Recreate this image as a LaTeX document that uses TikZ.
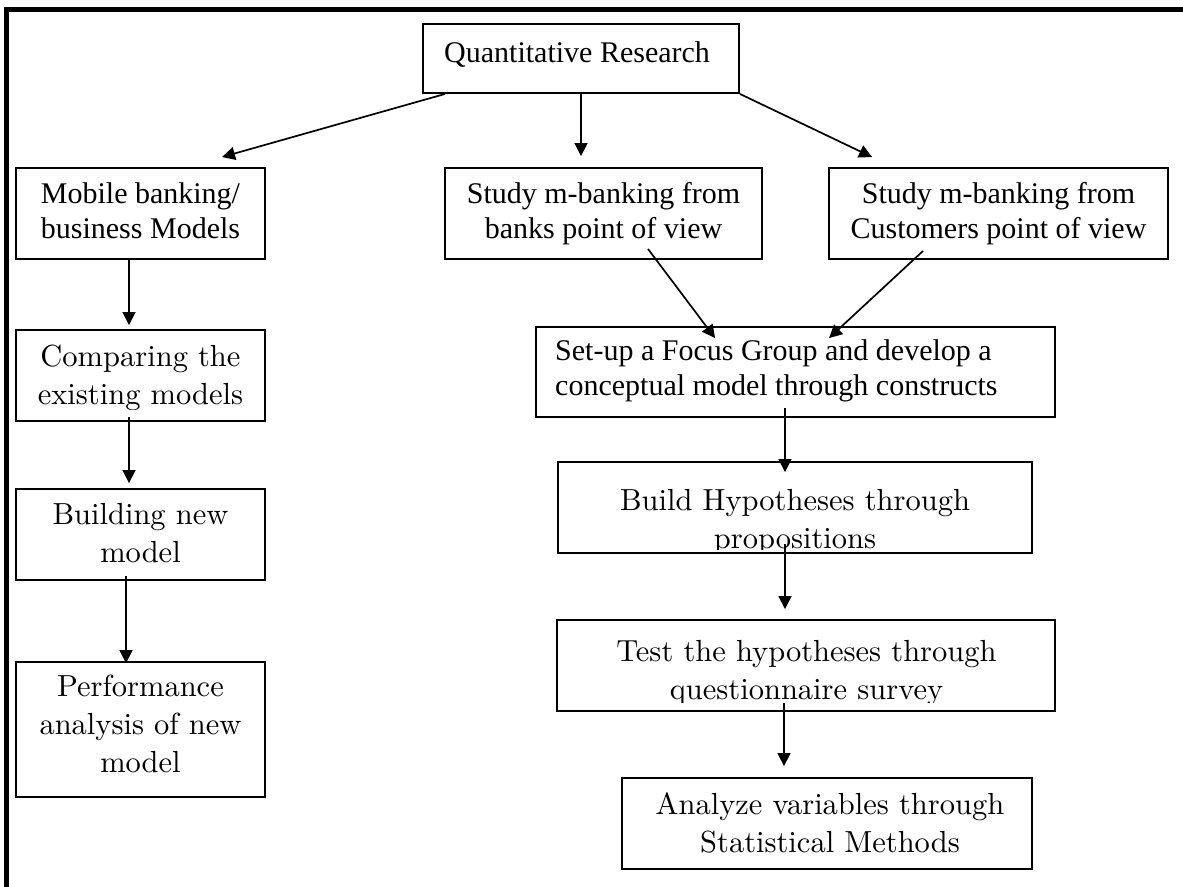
\documentclass[tikz,border=0pt]{standalone}
\usepackage{fontspec}
\newfontfamily\tnr{Liberation Serif}
\newfontfamily\pal{lmroman10-regular}[Extension=.otf]
\usetikzlibrary{arrows.meta,calc}
\begin{document}
\begin{tikzpicture}[x=1pt,y=-1pt,
 box/.style={draw,line width=1.9pt,inner sep=0pt},
 tt/.style={font=\tnr\fontsize{30}{35}\selectfont,inner sep=0pt,align=center,execute at begin node=\strut,execute at end node=\strut},
 pt/.style={font=\pal\fontsize{30.5}{38}\selectfont,inner sep=0pt,align=center,execute at begin node=\strut,execute at end node=\strut},
 arr/.style={line width=1.7pt,-{Triangle[length=13pt,width=13pt]}},
 frame/.style={line width=5pt}]
\useasboundingbox (0,0) rectangle (1183,886);
\draw[frame] (6.5,890) -- (6.5,9.5) -- (1190,9.5);
% boxes
\node[box,minimum width=316pt,minimum height=69pt] (qr) at (581,58.5) {};
\node[box,minimum width=249pt,minimum height=91pt] (mob) at (140.5,213.5) {};
\node[box,minimum width=317pt,minimum height=91pt] (bank) at (603.5,213.5) {};
\node[box,minimum width=339pt,minimum height=91pt] (cust) at (998.5,213.5) {};
\node[box,minimum width=249pt,minimum height=91pt] (comp) at (140.5,375.5) {};
\node[box,minimum width=249pt,minimum height=91pt] (build) at (140.5,534.5) {};
\node[box,minimum width=249pt,minimum height=135pt] (perf) at (140.5,729.5) {};
\node[box,minimum width=519pt,minimum height=90pt] (focus) at (795.5,372) {};
\node[box,minimum width=474pt,minimum height=91pt] (hyp) at (795,507.5) {};
\node[box,minimum width=498pt,minimum height=91pt] (test) at (806,665.5) {};
\node[box,minimum width=410pt,minimum height=91pt] (ana) at (827,823.5) {};
% texts
\node[tt,anchor=base west] (qrt) at (444,62) {Quantitative Research};
\node[tt] (mobt) at (140.5,215.5) {Mobile banking/\\business Models};
\node[tt] (bankt) at (603.5,215.5) {Study m-banking from\\banks point of view};
\node[tt] (custt) at (998.5,215.5) {Study m-banking from\\Customers point of view};
\begin{scope}
\clip (16,330) rectangle (265,409);
\node[pt] (compt) at (140.5,380.4) {Comparing the\\existing models};
\end{scope}
\node[pt] (buildt) at (140.5,538.4) {Building new\\model};
\node[pt] (perft) at (140.5,729.4) {Performance\\analysis of new\\model};
\node[tt,align=left,anchor=west] (focust) at (555,373) {Set-up a Focus Group and develop a\\conceptual model through constructs};
\begin{scope}
\clip (558,462) rectangle (1032,549);
\node[pt] (hypt) at (795,525) {Build Hypotheses through\\propositions};
\end{scope}
\begin{scope}
\clip (557,620) rectangle (1055,702);
\node[pt] (testt) at (806.5,676) {Test the hypotheses through\\questionnaire survey};
\end{scope}
\node[pt] (anat) at (830,828) {Analyze variables through\\Statistical Methods};
% arrows
\draw[arr] ($(qr.south west)+(23,0)$) -- ($(mob.north)+(81.5,-10)$);
\draw[arr] (qr.south) -- ($(bank.north)+(-22.5,-11)$);
\draw[arr] (qr.south east) -- ($(cust.north west)+(44,-10)$);
\draw[arr] ($(mob.south)+(-11.5,0)$) -- ($(comp.north)+(-11.5,-4)$);
\draw[arr] ($(comp.south)+(-11.5,-5)$) -- ($(build.north)+(-11.5,-5)$);
\draw[arr] ($(build.south)+(-14.5,-5)$) -- ($(perf.north)+(-14.5,2)$);
\draw[arr] ($(bank.south)+(44.5,-11)$) -- ($(focus.north west)+(180,12)$);
\draw[arr] ($(cust.south)+(-75.5,-9)$) -- ($(focus.north west)+(294,12)$);
\draw[arr] ($(focus.south)+(-10.5,-10)$) -- ($(hyp.north)+(-10,11)$);
\draw[arr] ($(hyp.south)+(-10,-10)$) -- ($(test.north)+(-21,-10)$);
\draw[arr] ($(test.south)+(-22,-9)$) -- ($(ana.north)+(-43,-11)$);
\end{tikzpicture}
\end{document}
